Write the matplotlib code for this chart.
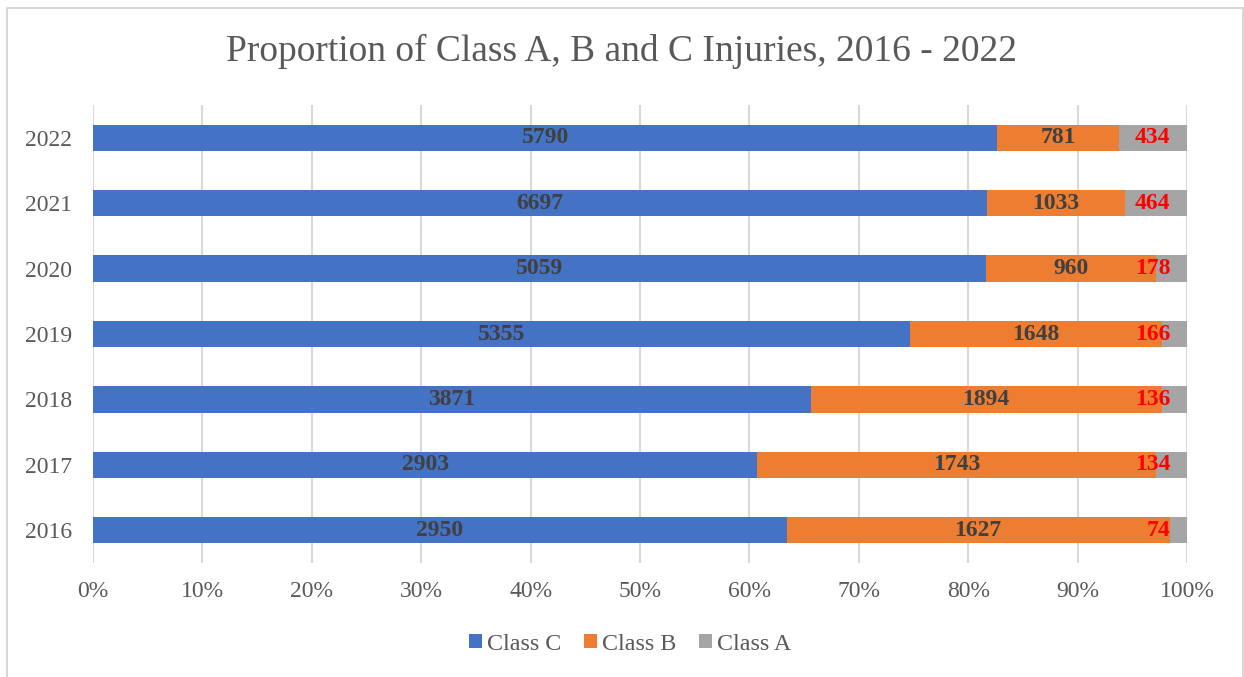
import matplotlib
matplotlib.use("Agg")
import matplotlib.pyplot as plt
from matplotlib.patches import Rectangle
from matplotlib.ticker import PercentFormatter
import numpy as np

# data
years = ["2016", "2017", "2018", "2019", "2020", "2021", "2022"]
class_c = [2950, 2903, 3871, 5355, 5059, 6697, 5790]
class_b = [1627, 1743, 1894, 1648, 960, 1033, 781]
class_a = [74, 134, 136, 166, 178, 464, 434]

plt.rcParams['font.family'] = ['Liberation Serif', 'DejaVu Serif']

c = np.array(class_c, dtype=float)
b = np.array(class_b, dtype=float)
a = np.array(class_a, dtype=float)
total = c + b + a
pc, pb, pa = c / total, b / total, a / total

fig = plt.figure(figsize=(12.44, 6.77), dpi=100)
ax = fig.add_axes([93 / 1244, 1 - 563 / 677, 1094 / 1244, 458 / 677])

y = np.arange(len(years))
h = 0.4
ax.barh(y, pc, height=h, color="#4472C4", label="Class C", zorder=2)
ax.barh(y, pb, left=pc, height=h, color="#ED7D31", label="Class B", zorder=2)
ax.barh(y, pa, left=pc + pb, height=h, color="#A5A5A5", label="Class A", zorder=2)

# value labels
for i in range(len(years)):
    ax.text(pc[i] / 2, y[i], str(class_c[i]), ha="center", va="center",
            fontsize=17, fontweight="bold", color="#404040", zorder=3)
    ax.text(pc[i] + pb[i] / 2, y[i], str(class_b[i]), ha="center", va="center",
            fontsize=17, fontweight="bold", color="#404040", zorder=3)
    ax.annotate(str(class_a[i]), xy=(1.0, y[i]), xytext=(-12, 0),
                textcoords="offset points", ha="right", va="center",
                fontsize=17, fontweight="bold", color="#FF0000", zorder=4)

ax.set_xlim(0, 1)
ax.set_ylim(-0.5, len(years) - 0.5)
ax.set_yticks(y)
ax.set_yticklabels(years)
ax.set_xticks(np.arange(0, 1.01, 0.1))
ax.xaxis.set_major_formatter(PercentFormatter(1.0, decimals=0))
ax.tick_params(axis="both", length=0, labelsize=17, labelcolor="#595959")
ax.tick_params(axis="x", pad=13)
ax.tick_params(axis="y", pad=15)
ax.grid(axis="x", color="#D9D9D9", linewidth=1.5, zorder=0)
ax.set_axisbelow(True)
for s in ax.spines.values():
    s.set_visible(False)

fig.text(0.5, 1 - 51 / 677, "Proportion of Class A, B and C Injuries, 2016 - 2022",
         ha="center", va="center", fontsize=27, color="#595959")

handles, labels = ax.get_legend_handles_labels()
fig.legend(handles, labels, loc="center", bbox_to_anchor=(630 / 1244, 1 - 644 / 677),
           ncol=3, frameon=False, fontsize=17.3, labelcolor="#595959",
           handlelength=0.55, handleheight=0.55, handletextpad=0.2, columnspacing=0.95)

# outer chart frame
fig.patches.append(Rectangle((7 / 1244, -0.05), 1236 / 1244, 1.05 - 8 / 677,
                             transform=fig.transFigure, fill=False,
                             edgecolor="#D9D9D9", linewidth=1.5))

fig.savefig("out.png", dpi=100)
